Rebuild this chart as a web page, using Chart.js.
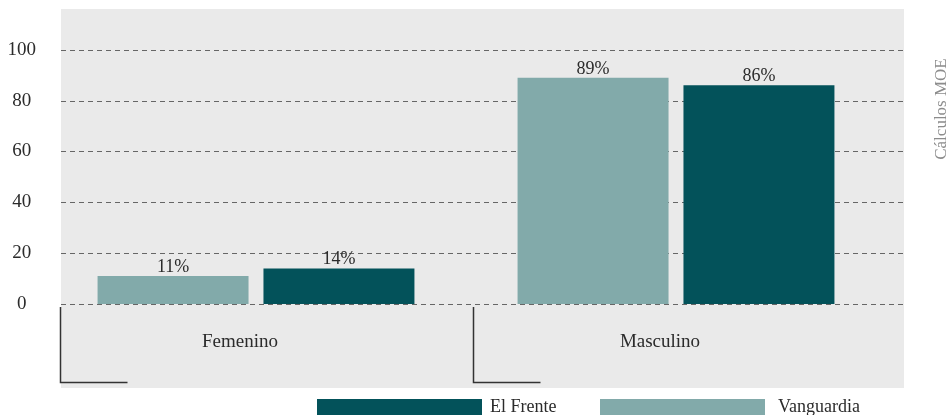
<!DOCTYPE html>
<html>
<head>
<meta charset="utf-8">
<script src="https://cdn.jsdelivr.net/npm/chart.js@4.4.1/dist/chart.umd.min.js"></script>
<style>
	html, body { margin: 0; padding: 0; background: #fff; }
	#wrap { width: 952px; height: 415px; }
</style>
</head>
<body>
<div id="wrap"><canvas id="chart" width="952" height="415"></canvas></div>
<script>
	var categories = ['Femenino', 'Masculino'];
	var vanguardia = [11, 89];
	var elFrente = [14, 86];
	var yTicks = [0, 20, 40, 60, 80, 100];
	var sourceNote = 'Cálculos MOE';

	var SERIF = '"Liberation Serif", "DejaVu Serif", serif';
	var TEXT = '#2b2b2b';

	Chart.defaults.font.family = SERIF;
	Chart.defaults.color = TEXT;

	// grey panel plus dashed value lines, wider than the bar area on the right
	var panelPlugin = {
		id: 'panel',
		beforeDraw: function(chart) {
			var ctx = chart.ctx;
			var area = chart.chartArea;
			var y = chart.scales.y;
			var left = area.left + 15;
			var right = area.right + 18;

			ctx.save();
			ctx.fillStyle = '#eaeaea';
			ctx.fillRect(left, area.top, right - left, area.bottom - area.top);
			ctx.strokeStyle = '#666';
			ctx.lineWidth = 1;
			ctx.setLineDash([5, 4]);
			y.ticks.forEach(function(t) {
				var py = Math.round(y.getPixelForValue(t.value)) + 0.5;
				ctx.beginPath();
				ctx.moveTo(left, py);
				ctx.lineTo(right, py);
				ctx.stroke();
			});
			ctx.restore();
		}
	};

	// value labels, category names with their bracket lines, legend and note
	var labelsPlugin = {
		id: 'labels',
		afterDatasetsDraw: function(chart) {
			var ctx = chart.ctx;
			ctx.save();
			ctx.font = '18px ' + SERIF;
			ctx.fillStyle = TEXT;
			ctx.textAlign = 'center';
			ctx.textBaseline = 'alphabetic';
			chart.data.datasets.forEach(function(ds, i) {
				chart.getDatasetMeta(i).data.forEach(function(bar, j) {
					ctx.fillText(ds.data[j] + '%', bar.x, bar.y - 4);
				});
			});
			ctx.restore();
		},
		afterDraw: function(chart) {
			var ctx = chart.ctx;
			var area = chart.chartArea;
			var x = chart.scales.x;
			var y = chart.scales.y;
			var band = (area.right - area.left) / categories.length;
			var zero = y.getPixelForValue(0);

			ctx.save();
			ctx.strokeStyle = '#333';
			ctx.lineWidth = 1.5;
			ctx.font = '19px ' + SERIF;
			ctx.fillStyle = TEXT;
			ctx.textAlign = 'center';
			ctx.textBaseline = 'middle';
			categories.forEach(function(name, i) {
				var lx = Math.round(area.left + band * i + (i === 0 ? 14 : 7)) + 0.5;
				var ly = Math.round(area.bottom - 6) + 0.5;
				ctx.beginPath();
				ctx.moveTo(lx, zero + 3);
				ctx.lineTo(lx, ly);
				ctx.lineTo(lx + 67, ly);
				ctx.stroke();
				ctx.fillText(name, x.getPixelForValue(i) - 16, y.getPixelForValue(-15));
			});

			// legend, drawn in reverse dataset order
			var items = chart.data.datasets.slice().reverse();
			ctx.textAlign = 'left';
			ctx.textBaseline = 'alphabetic';
			ctx.font = '18px ' + SERIF;
			items.forEach(function(ds, i) {
				var bx = 317 + i * 283;
				var by = area.bottom + 11;
				ctx.fillStyle = ds.backgroundColor;
				ctx.fillRect(bx, by, 165, 16);
				ctx.fillStyle = TEXT;
				ctx.fillText(ds.label, bx + 165 + 8 + i * 5, by + 13);
			});

			// source note along the right edge
			ctx.translate(946, 109);
			ctx.rotate(-Math.PI / 2);
			ctx.textAlign = 'center';
			ctx.fillStyle = '#8c8c8c';
			ctx.font = '17px ' + SERIF;
			ctx.fillText(sourceNote, 0, 0);
			ctx.restore();
		}
	};

	var chart = new Chart(document.getElementById('chart'), {
		type: 'bar',
		data: {
			labels: categories,
			datasets: [{
				label: 'Vanguardia',
				data: vanguardia,
				backgroundColor: '#82aaaa'
			}, {
				label: 'El Frente',
				data: elFrente,
				backgroundColor: '#03525a'
			}]
		},
		options: {
			responsive: false,
			animation: false,
			layout: {
				padding: { top: 9, right: 66, bottom: 27, left: 0 }
			},
			datasets: {
				bar: {
					categoryPercentage: 0.79,
					barPercentage: 0.91,
					borderWidth: 0
				}
			},
			scales: {
				x: {
					display: false
				},
				y: {
					min: -33,
					max: 116,
					afterBuildTicks: function(scale) {
						scale.ticks = yTicks.map(function(v) { return {value: v}; });
					},
					afterFit: function(scale) {
						scale.width = 46;
						scale.paddingTop = 0;
						scale.paddingBottom = 0;
					},
					border: { display: false },
					grid: { display: false, drawTicks: false },
					ticks: {
						padding: 10,
						crossAlign: 'center',
						color: TEXT,
						font: { size: 19 }
					}
				}
			},
			plugins: {
				legend: { display: false },
				tooltip: { enabled: false }
			}
		},
		plugins: [panelPlugin, labelsPlugin]
	});
</script>
</body>
</html>
